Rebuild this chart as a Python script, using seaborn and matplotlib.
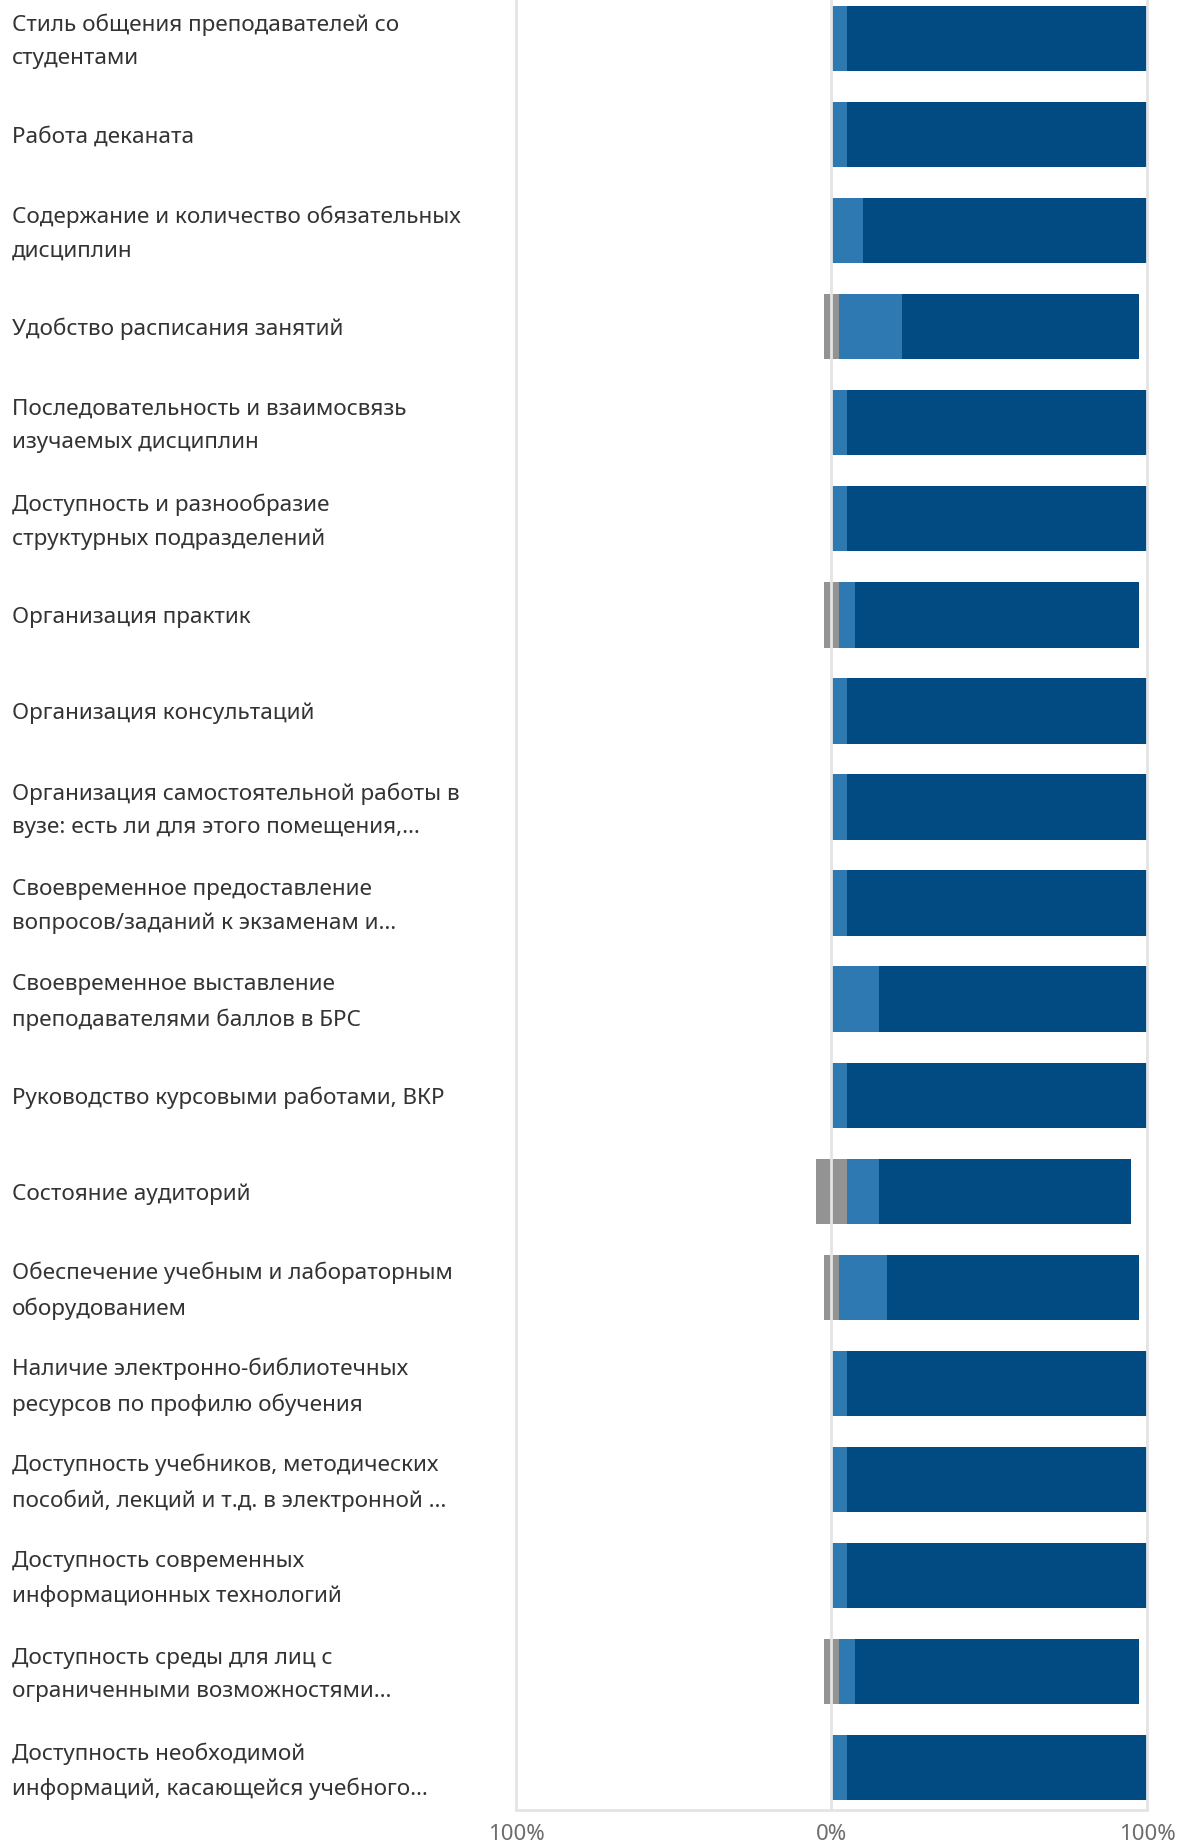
import pandas as pd
import matplotlib
matplotlib.use('Agg')
import matplotlib.pyplot as plt
import matplotlib.transforms as mtransforms
import seaborn as sns

# survey items, top to bottom
categories = [
    'Стиль общения преподавателей со\nстудентами',
    'Работа деканата',
    'Содержание и количество обязательных\nдисциплин',
    'Удобство расписания занятий',
    'Последовательность и взаимосвязь\nизучаемых дисциплин',
    'Доступность и разнообразие\nструктурных подразделений',
    'Организация практик',
    'Организация консультаций',
    'Организация самостоятельной работы в\nвузе: есть ли для этого помещения,…',
    'Своевременное предоставление\nвопросов/заданий к экзаменам и…',
    'Своевременное выставление\nпреподавателями баллов в БРС',
    'Руководство курсовыми работами, ВКР',
    'Состояние аудиторий',
    'Обеспечение учебным и лабораторным\nоборудованием',
    'Наличие электронно-библиотечных\nресурсов по профилю обучения',
    'Доступность учебников, методических\nпособий, лекций и т.д. в электронной …',
    'Доступность современных\nинформационных технологий',
    'Доступность среды для лиц с\nограниченными возможностями…',
    'Доступность необходимой\nинформаций, касающейся учебного…',
]

# percent of answers
neutral = [0, 0, 0, 5, 0, 0, 5, 0, 0, 0, 0, 0, 10, 5, 0, 0, 0, 5, 0]
rather_yes = [5, 5, 10, 20, 5, 5, 5, 5, 5, 5, 15, 5, 10, 15, 5, 5, 5, 5, 5]
yes = [95, 95, 90, 75, 95, 95, 90, 95, 95, 95, 85, 95, 80, 80, 95, 95, 95, 90, 95]

tick_values = [-1, 0, 1]
tick_labels = ['100%', '0%', '100%']

GRAY = '#939393'
LIGHT = '#2e79b1'
DARK = '#024a82'
GRID = '#e4e4e4'

sns.set_style('white')
plt.rcParams['font.family'] = ['Noto Sans', 'DejaVu Sans']

df = pd.DataFrame({
    'item': categories,
    'neutral': neutral,
    'rather_yes': rather_yes,
    'yes': yes,
})
df['neg_half'] = -df['neutral'] / 200
df['pos_half'] = df['neutral'] / 200
df['to_light'] = df['pos_half'] + df['rather_yes'] / 100
df['to_dark'] = df['to_light'] + df['yes'] / 100

fig = plt.figure(figsize=(11.78, 18.45), dpi=100)
ax = fig.add_axes([0.438, 0.019, 0.5357, 0.981])

# stacked by overdrawing cumulative widths
for col, color in [('to_dark', DARK), ('to_light', LIGHT), ('pos_half', GRAY), ('neg_half', GRAY)]:
    sns.barplot(data=df, x=col, y='item', order=categories, orient='h',
                color=color, width=0.68, saturation=1, linewidth=0, ax=ax)

ax.set_xlim(-1, 1)
ax.set_ylim(18.44, -0.40)

for v in tick_values:
    ax.axvline(v, color=GRID, lw=2, zorder=5, clip_on=False)

for side in ['top', 'left', 'right']:
    ax.spines[side].set_visible(False)
ax.spines['bottom'].set_color(GRID)
ax.spines['bottom'].set_linewidth(2)

ax.set_xticks(tick_values)
ax.set_xticklabels(tick_labels)
ax.tick_params(axis='x', length=0, pad=10, labelsize=16, labelcolor='#6d6d6d')
ax.tick_params(axis='y', length=0, pad=363, labelsize=16.2, labelcolor='#333333')

# two-line labels sit a little higher in the original
lift = mtransforms.ScaledTranslation(0, 4 / 72, fig.dpi_scale_trans)
for lbl in ax.get_yticklabels():
    lbl.set_horizontalalignment('left')
    lbl.set_linespacing(1.75)
    if '\n' in lbl.get_text():
        lbl.set_transform(lbl.get_transform() + lift)

ax.set_xlabel('')
ax.set_ylabel('')

fig.savefig('out.png', dpi=100)
